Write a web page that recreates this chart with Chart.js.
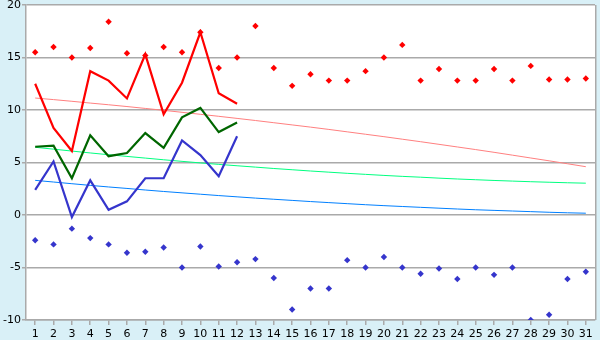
<!DOCTYPE html>
<html>
<head>
<meta charset="utf-8">
<script src="https://cdn.jsdelivr.net/npm/chart.js@4"></script>
<style>
html,body{margin:0;padding:0;background:#d9f0f7;}
canvas{display:block;}
</style>
</head>
<body>
<canvas id="c" width="600" height="340"></canvas>
<script>
const days = ['1','2','3','4','5','6','7','8','9','10','11','12','13','14','15','16','17','18','19','20','21','22','23','24','25','26','27','28','29','30','31'];
const yTicks = [-10, -5, 0, 5, 10, 15, 20];

const maxTemp = [12.5, 8.3, 6.1, 13.7, 12.8, 11.1, 15.3, 9.6, 12.6, 17.4, 11.6, 10.6];
const meanTemp = [6.5, 6.6, 3.5, 7.6, 5.6, 5.9, 7.8, 6.4, 9.3, 10.2, 7.9, 8.8];
const minTemp = [2.4, 5.1, -0.2, 3.3, 0.5, 1.3, 3.5, 3.5, 7.1, 5.7, 3.7, 7.5];

const recordMax = [15.5, 16.0, 15.0, 15.9, 18.4, 15.4, 15.2, 16.0, 15.5, 17.4, 14.0, 15.0, 18.0, 14.0, 12.3, 13.4, 12.8, 12.8, 13.7, 15.0, 16.2, 12.8, 13.9, 12.8, 12.8, 13.9, 12.8, 14.2, 12.9, 12.9, 13.0];
const recordMin = [-2.4, -2.8, -1.3, -2.2, -2.8, -3.6, -3.5, -3.1, -5.0, -3.0, -4.9, -4.5, -4.2, -6.0, -9.0, -7.0, -7.0, -4.3, -5.0, -4.0, -5.0, -5.6, -5.1, -6.1, -5.0, -5.7, -5.0, -10.0, -9.5, -6.1, -5.4];

const normalMax = [11.14, 10.99, 10.83, 10.66, 10.50, 10.33, 10.15, 9.97, 9.78, 9.59, 9.40, 9.20, 9.00, 8.79, 8.58, 8.37, 8.15, 7.92, 7.69, 7.46, 7.22, 6.98, 6.73, 6.48, 6.23, 5.97, 5.70, 5.43, 5.16, 4.88, 4.60];
const normalMean = [6.45, 6.27, 6.09, 5.91, 5.74, 5.58, 5.42, 5.26, 5.11, 4.96, 4.82, 4.69, 4.56, 4.43, 4.31, 4.19, 4.08, 3.97, 3.87, 3.77, 3.68, 3.60, 3.51, 3.43, 3.36, 3.29, 3.23, 3.17, 3.12, 3.07, 3.03];
const normalMin = [3.30, 3.14, 2.98, 2.82, 2.67, 2.53, 2.38, 2.24, 2.11, 1.98, 1.85, 1.73, 1.61, 1.50, 1.39, 1.28, 1.18, 1.08, 0.98, 0.89, 0.81, 0.73, 0.65, 0.57, 0.50, 0.44, 0.38, 0.32, 0.26, 0.21, 0.17];

const bgPlugin = {
  id: 'bg',
  beforeDraw(chart) {
    const ctx = chart.ctx, a = chart.chartArea;
    ctx.save();
    ctx.fillStyle = '#d9f0f7';
    ctx.fillRect(0, 0, chart.width, chart.height);
    ctx.fillStyle = '#ffffff';
    ctx.fillRect(a.left, a.top, a.right - a.left, a.bottom - a.top);
    ctx.restore();
  },
  afterDatasetsDraw(chart) {
    const ctx = chart.ctx, a = chart.chartArea;
    ctx.save();
    ctx.strokeStyle = '#aaaaaa';
    ctx.lineWidth = 1.5;
    ctx.beginPath();
    ctx.moveTo(Math.round(a.right) + 0.75, a.top);
    ctx.lineTo(Math.round(a.right) + 0.75, a.bottom);
    ctx.stroke();
    ctx.restore();
  }
};

function lineDs(data, color, width, order) {
  return { type: 'line', data, borderColor: color, backgroundColor: color, borderWidth: width, pointRadius: 0, tension: 0, fill: false, order };
}
function pointDs(data, color) {
  return { type: 'line', data, showLine: false, borderColor: color, backgroundColor: color, pointStyle: 'rectRot', pointRadius: 3.2, pointBorderWidth: 0, order: 2 };
}

new Chart(document.getElementById('c'), {
  data: {
    labels: days,
    datasets: [
      lineDs(maxTemp, '#ff0000', 2.2, 1),
      lineDs(meanTemp, '#006600', 2.2, 1),
      lineDs(minTemp, '#3535cc', 2.2, 1),
      pointDs(recordMax, '#ff0000'),
      pointDs(recordMin, '#3535cc'),
      lineDs(normalMax, '#ff8080', 1, 3),
      lineDs(normalMean, '#00ff80', 1, 3),
      lineDs(normalMin, '#0080ff', 1, 3)
    ]
  },
  options: {
    responsive: false,
    animation: false,
    devicePixelRatio: 1,
    layout: { padding: { top: 5, right: 5, left: 0, bottom: 0 } },
    plugins: { legend: { display: false }, tooltip: { enabled: false } },
    scales: {
      x: {
        type: 'category',
        offset: true,
        grid: { display: true, drawOnChartArea: false, drawTicks: true, tickLength: 5, color: '#aaaaaa', lineWidth: 1.5, offset: false },
        border: { display: true, color: '#aaaaaa', width: 1.5 },
        ticks: { color: '#000000', font: { family: 'DejaVu Sans', size: 11 }, padding: 3, maxRotation: 0, autoSkip: false },
        afterFit(scale) { scale.height = 20; scale.paddingLeft = 0; scale.paddingRight = 0; }
      },
      y: {
        min: -10, max: 20,
        afterBuildTicks(scale) { scale.ticks = yTicks.map(v => ({ value: v })); },
        grid: { color: '#aaaaaa', lineWidth: 1.5, tickLength: 4, drawTicks: true },
        border: { display: true, color: '#aaaaaa', width: 1.5 },
        ticks: { color: '#000000', font: { family: 'DejaVu Sans', size: 11 }, padding: 1 },
        afterFit(scale) { scale.width = 26; scale.paddingTop = 0; scale.paddingBottom = 0; }
      }
    }
  },
  plugins: [bgPlugin]
});
</script>
</body>
</html>
